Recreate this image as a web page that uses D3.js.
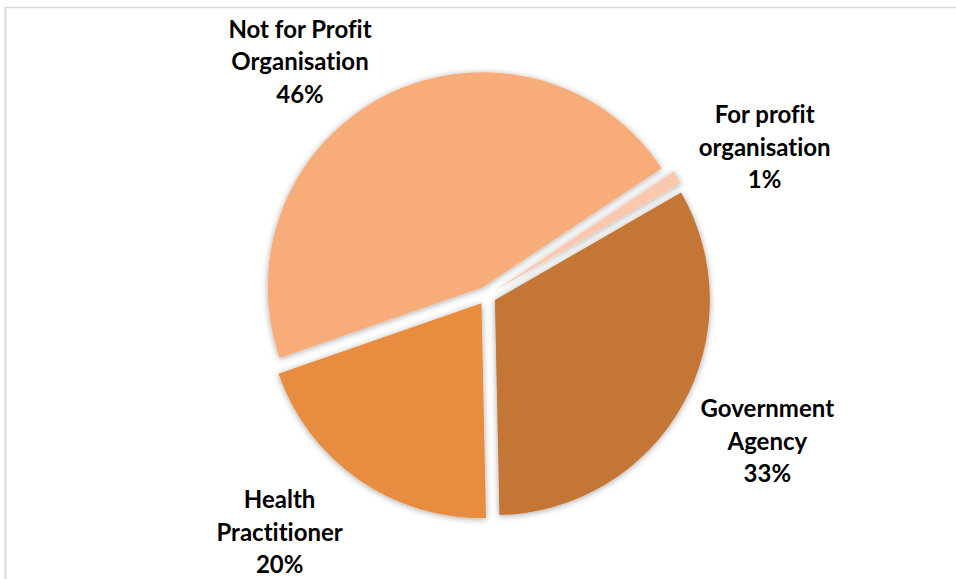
<!DOCTYPE html>
<html>
<head>
<meta charset="utf-8">
<script src="https://cdn.jsdelivr.net/npm/d3@7/dist/d3.min.js"></script>
<style>
  html, body { margin: 0; padding: 0; background: #fff; }
  svg { display: block; }
  text { font-family: Lato, "Open Sans", sans-serif; font-weight: 700; fill: #000;
         font-variant-ligatures: none; font-feature-settings: "liga" 0; }
</style>
</head>
<body>
<svg id="chart" width="956" height="579"></svg>
<script>
// Respondent sectors (percent of respondents), in clockwise order
const categories = ["For profit organisation", "Government Agency", "Health Practitioner", "Not for Profit Organisation"];
const values = [1, 33, 20, 46];
const labelLines = [
  ["For profit", "organisation"],
  ["Government", "Agency"],
  ["Health", "Practitioner"],
  ["Not for Profit", "Organisation"]
];
const colors = ["#F9C8AD", "#C37635", "#E88C41", "#F7AC79"];

const width = 956, height = 579;
const cx = 486.8, cy = 295.5, radius = 215;
const explode = 9.3;
const startDeg = 56.4;

// Label placement: angle (deg clockwise from 12 o'clock) and distance from the pie centre
const labelLayout = [
  { angle: 61.9, dist: 315 },
  { angle: 117.4, dist: 316 },
  { angle: 221.2, dist: 314.5 },
  { angle: 321.4, dist: 299.4 }
];

const svg = d3.select("#chart");

// Frame lines (top and left)
svg.append("line").attr("x1", 5).attr("x2", 956).attr("y1", 7.5).attr("y2", 7.5)
  .attr("stroke", "#d9d9d9").attr("stroke-width", 1.5);
svg.append("line").attr("x1", 5.5).attr("x2", 5.5).attr("y1", 7).attr("y2", height)
  .attr("stroke", "#d9d9d9").attr("stroke-width", 2);

const defs = svg.append("defs");
const filt = defs.append("filter").attr("id", "shadow")
  .attr("x", "-20%").attr("y", "-20%").attr("width", "140%").attr("height", "140%");
filt.append("feDropShadow").attr("dx", 0).attr("dy", 1).attr("stdDeviation", 3)
  .attr("flood-color", "#000").attr("flood-opacity", 0.35);

const rad = Math.PI / 180;
const pie = d3.pie().sort(null).value(d => d)
  .startAngle(startDeg * rad).endAngle(startDeg * rad + 2 * Math.PI);
const arcs = pie(values);
const arc = d3.arc().innerRadius(0).outerRadius(radius);

const g = svg.append("g").attr("transform", `translate(${cx},${cy})`);

g.selectAll("path.slice").data(arcs).enter().append("path")
  .attr("class", "slice")
  .attr("d", arc)
  .attr("fill", (d, i) => colors[i])
  .attr("filter", "url(#shadow)")
  .attr("transform", d => {
    const mid = (d.startAngle + d.endAngle) / 2;
    return `translate(${explode * Math.sin(mid)},${-explode * Math.cos(mid)})`;
  });

// Data labels: category name lines plus percentage
const lineH = 32.5, fs = 24;
const lab = svg.append("g");
arcs.forEach((d, i) => {
  const L = labelLayout[i];
  const a = L.angle * rad;
  const x = cx + L.dist * Math.sin(a);
  const y = cy - L.dist * Math.cos(a);
  const lines = labelLines[i].concat([values[i] + "%"]);
  const t = lab.append("text")
    .attr("text-anchor", "middle")
    .attr("font-size", fs)
    .attr("x", x)
    .attr("y", y - lineH * (lines.length - 1) / 2 + fs * 0.36);
  lines.forEach((s, k) => {
    t.append("tspan").attr("x", x).attr("dy", k === 0 ? 0 : lineH).text(s);
  });
});
</script>
</body>
</html>
